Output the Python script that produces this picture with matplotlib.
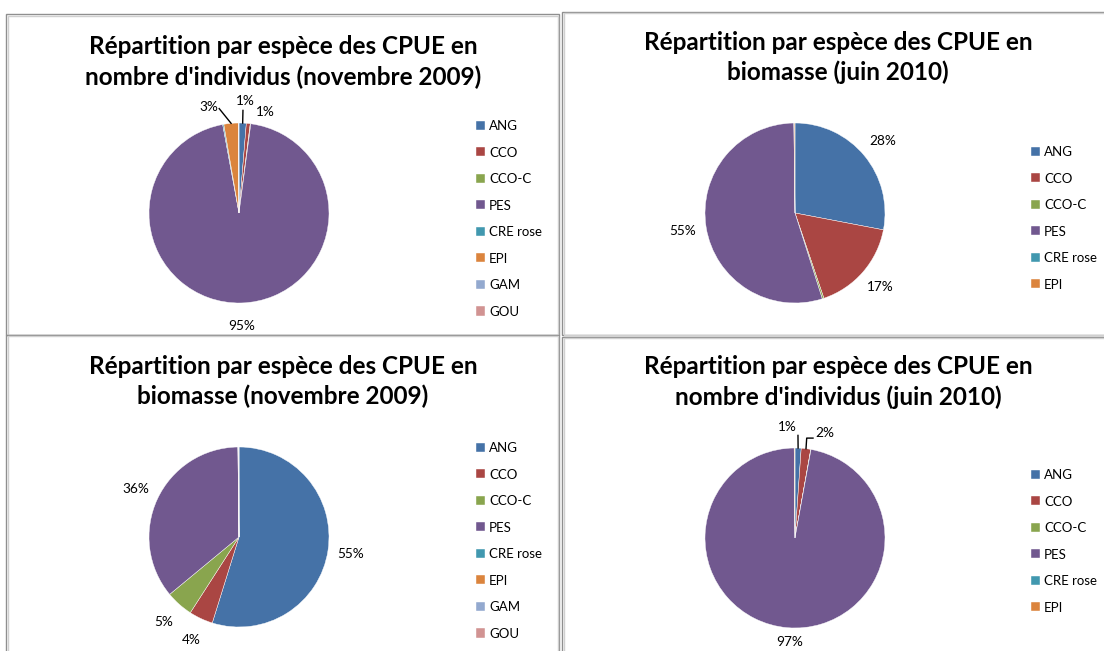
import matplotlib
matplotlib.use("Agg")
import numpy as np
import matplotlib.pyplot as plt
from matplotlib.patches import Rectangle
from matplotlib.lines import Line2D

plt.rcParams["font.family"] = ["Lato", "DejaVu Sans"]

W, H = 1104, 651

# Species and CPUE shares (%)
species_nov09 = ["ANG", "CCO", "CCO-C", "PES", "CRE rose", "EPI", "GAM", "GOU"]
species_jun10 = ["ANG", "CCO", "CCO-C", "PES", "CRE rose", "EPI"]

nombre_nov09 = [1.3, 0.7, 0.1, 95.0, 0.2, 2.6, 0.05, 0.05]
biomasse_jun10 = [28.0, 16.8, 0.3, 54.7, 0.05, 0.15]
biomasse_nov09 = [54.8, 4.3, 4.9, 35.8, 0.05, 0.1, 0.03, 0.02]
nombre_jun10 = [1.1, 1.7, 0.05, 97.0, 0.05, 0.1]

colors = ["#4572A7", "#AA4643", "#89A54E", "#71588F",
          "#4198AF", "#DB843D", "#93A9CF", "#D19392"]

title_l1 = "Répartition par espèce des CPUE en"


def px(x, y):
    """pixel (from top-left) -> figure fraction"""
    return x / W, 1 - y / H


fig = plt.figure(figsize=(W / 100, H / 100), dpi=100)

# panel frames
for x0, y0, x1, y1 in [(6, 14, 559, 335), (562, 12, 1112, 335),
                       (6, 335, 559, 660), (562, 337, 1112, 660)]:
    for off, col in [(0, "#8f8f8f"), (1.5, "#d0d0d0")]:
        fx0, fy1 = px(x0 + off, y1)
        fx1, fy0 = px(x1 - off, y0 + off)
        fig.add_artist(Rectangle((fx0, fy1), fx1 - fx0, fy0 - fy1,
                                 transform=fig.transFigure, fill=False,
                                 edgecolor=col, linewidth=1.0))

# label overrides for small slices: (x, y, leader elbow points)
panels = [
    dict(values=nombre_nov09, labels=species_nov09, center=(239, 213),
         title=(283, 47, "nombre d'individus (novembre 2009)"), legend=(476, 120),
         over={0: (0.07, 1.24, [(0.044, 1.14)]),
               1: (0.29, 1.12, None),
               5: (-0.34, 1.18, [(-0.22, 1.16)])}),
    dict(values=biomasse_jun10, labels=species_jun10, center=(795, 213),
         title=(838, 42, "biomasse (juin 2010)"), legend=(1031, 146), over={}),
    dict(values=biomasse_nov09, labels=species_nov09, center=(239, 537),
         title=(283, 366, "biomasse (novembre 2009)"), legend=(476, 442), over={}),
    dict(values=nombre_jun10, labels=species_jun10, center=(795, 538),
         title=(838, 367, "nombre d'individus (juin 2010)"), legend=(1031, 469),
         over={0: (-0.08, 1.23, [(0.033, 1.14)]),
               1: (0.33, 1.17, [(0.13, 1.11), (0.2, 1.11)]),
               3: (-0.06, -1.15, None)}),
]

R_PX = 90
HALF = 1.6
for p in panels:
    cx, cy = p["center"]
    fx0, fy0 = px(cx - HALF * R_PX, cy + HALF * R_PX)
    ax = fig.add_axes([fx0, fy0, 2 * HALF * R_PX / W, 2 * HALF * R_PX / H])

    vals = np.array(p["values"], dtype=float)
    wedges, _ = ax.pie(vals, colors=colors[:len(vals)], startangle=90,
                       counterclock=False, radius=1,
                       wedgeprops=dict(edgecolor="white", linewidth=0.3))
    # pie() resets the limits, so fix the scale afterwards
    ax.set_xlim(-HALF, HALF)
    ax.set_ylim(-HALF, HALF)
    ax.axis("off")

    pct = vals / vals.sum() * 100
    cum = np.cumsum(pct) - pct / 2
    for i, (w, v) in enumerate(zip(wedges, pct)):
        if v < 0.5:
            continue
        ang = np.deg2rad(90 - cum[i] * 3.6)
        if i in p["over"]:
            lx, ly, leader = p["over"][i]
        else:
            lx, ly, leader = 1.26 * np.cos(ang), 1.26 * np.sin(ang), None
        if leader:
            pts = [(np.cos(ang), np.sin(ang))] + leader
            xs, ys = zip(*pts)
            ax.add_line(Line2D(xs, ys, color="black", linewidth=1.0))
        ax.text(lx, ly, f"{v:.0f}%", ha="center", va="center", fontsize=9.8)

    tx, ty, l2 = p["title"]
    for k, line in enumerate([title_l1, l2]):
        fig.text(*px(tx, ty + 30 * k), line, ha="center", va="center",
                 fontsize=17.5, fontweight="bold")

    fig.legend(wedges, p["labels"], loc="upper left",
               bbox_to_anchor=px(*p["legend"]), bbox_transform=fig.transFigure,
               frameon=False, fontsize=9.5, handlelength=0.68, handleheight=0.68,
               handletextpad=0.3, labelspacing=1.1, borderpad=0,
               borderaxespad=0)

fig.savefig("out.png", dpi=100, facecolor="white")
